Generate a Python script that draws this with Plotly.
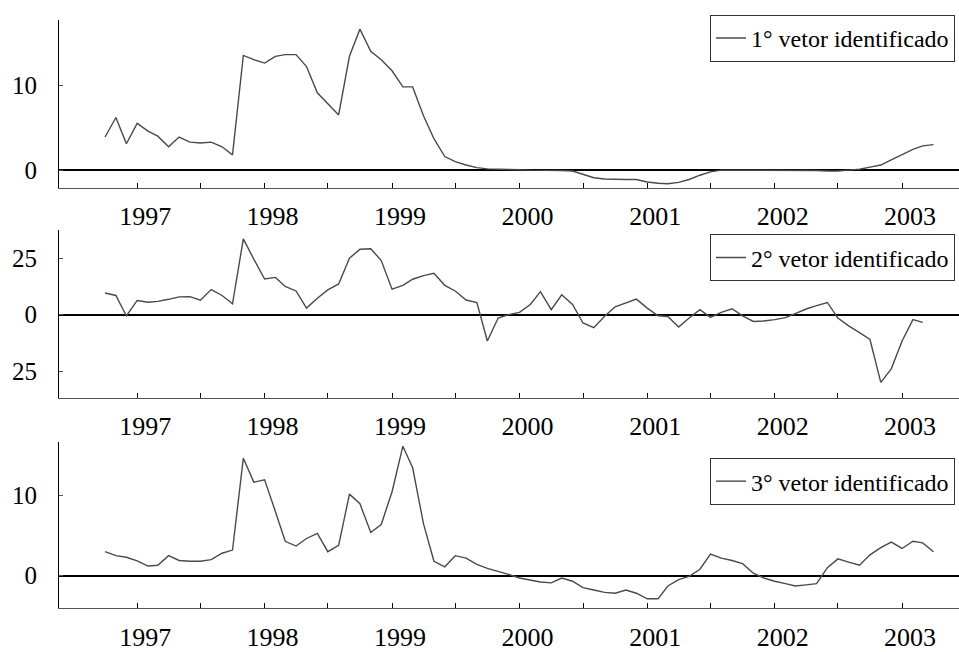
import plotly.graph_objects as go
import pandas as pd

# monthly observations, Oct 1996 .. Apr 2003
months = pd.date_range("1996-10-01", periods=79, freq="MS")

vetor1 = [3.9, 6.2, 3.1, 5.5, 4.6, 4.0, 2.75, 3.9, 3.3, 3.2,
          3.3, 2.75, 1.8, 13.5, 13.0, 12.6, 13.4, 13.6, 13.6, 12.2,
          9.1, 7.8, 6.5, 13.4, 16.6, 14.0, 13.0, 11.7, 9.8, 9.8,
          6.4, 3.7, 1.6, 1.0, 0.6, 0.3, 0.15, 0.1, 0.1, 0.05,
          0.0, 0.0, 0.0, -0.05, -0.1, -0.5, -0.9, -1.05, -1.1, -1.1,
          -1.1, -1.4, -1.55, -1.6, -1.45, -1.1, -0.6, -0.2, 0.0, 0.0,
          0.0, 0.0, 0.0, 0.0, 0.0, 0.0, 0.0, -0.05, -0.1, -0.1,
          0.0, 0.1, 0.35, 0.6, 1.2, 1.85, 2.45, 2.85, 3.0]

vetor2 = [9.6, 8.5, -0.6, 6.3, 5.5, 5.9, 6.8, 7.9, 8.0, 6.4,
          11.1, 8.5, 4.8, 33.6, 24.6, 15.8, 16.5, 12.5, 10.5, 2.9,
          7.3, 11.0, 13.6, 25.0, 29.0, 29.2, 24.0, 11.3, 13.0, 15.7,
          17.3, 18.3, 13.0, 10.5, 6.5, 5.4, -11.7, -1.5, 0.0, 1.0,
          4.5, 10.2, 2.2, 8.8, 4.5, -3.7, -5.8, -0.7, 3.5, 5.4,
          6.9, 2.9, -0.5, -0.8, -5.5, -1.5, 2.2, -1.2, 1.0, 2.6,
          -0.5, -3.0, -2.8, -2.2, -1.3, 0.5, 2.5, 4.0, 5.4, -1.5,
          -5.0, -8.0, -11.0, -30.0, -24.0, -11.7, -2.2, -3.4, None]

vetor3 = [3.0, 2.5, 2.3, 1.85, 1.2, 1.3, 2.5, 1.9, 1.8, 1.8,
          2.0, 2.8, 3.2, 14.7, 11.7, 12.0, 8.0, 4.3, 3.7, 4.65,
          5.3, 3.0, 3.8, 10.2, 9.0, 5.4, 6.4, 10.5, 16.2, 13.5,
          6.5, 1.8, 1.1, 2.5, 2.2, 1.4, 0.9, 0.55, 0.15, -0.3,
          -0.6, -0.8, -0.9, -0.3, -0.7, -1.5, -1.8, -2.1, -2.2, -1.8,
          -2.2, -2.9, -2.9, -1.3, -0.5, -0.1, 0.8, 2.7, 2.2, 1.9,
          1.5, 0.3, -0.3, -0.7, -1.0, -1.3, -1.15, -1.0, 1.0, 2.1,
          1.7, 1.3, 2.6, 3.5, 4.2, 3.4, 4.3, 4.1, 3.0]

series_names = ["1° vetor identificado", "2° vetor identificado", "3° vetor identificado"]
years = [1997, 1998, 1999, 2000, 2001, 2002, 2003]
y_tickvals = [[0, 10], [-25, 0, 25], [0, 10]]
y_ticktext = [["0", "10"], ["25", "0", "25"], ["0", "10"]]
y_ranges = [[-2.1, 17.7], [-36.8, 37.3], [-4.1, 16.7]]

W, H = 959, 652
FONT = "Liberation Serif"
panel_px = [(20, 190), (233, 402), (447, 615)]
legend_top_px = [15, 237, 463]

x_tickvals = []
x_ticktext = []
for y in years:
    x_tickvals += [f"{y}-01-01", f"{y}-07-01"]
    x_ticktext += [str(y), ""]

fig = go.Figure()
data = [vetor1, vetor2, vetor3]
layout = dict(
    width=W, height=H,
    margin=dict(l=59, r=0, t=0, b=0),
    paper_bgcolor="white", plot_bgcolor="white",
    font=dict(family=FONT, color="black"),
    showlegend=True,
)
for k in range(3):
    sfx = "" if k == 0 else str(k + 1)
    fig.add_trace(go.Scatter(
        x=months, y=data[k], mode="lines", name=series_names[k],
        line=dict(color="#4a4a4a", width=1.4),
        xaxis="x" + sfx, yaxis="y" + sfx,
        legend="legend" + sfx,
    ))
    top, bot = panel_px[k]
    layout["xaxis" + sfx] = dict(
        domain=[0, 1], anchor="y" + sfx,
        range=["1996-05-22", "2003-06-13"],
        tickvals=x_tickvals, ticktext=x_ticktext,
        ticks="inside", ticklen=5, tickcolor="black", tickwidth=1,
        showline=True, linecolor="#555", linewidth=1.2,
        showgrid=False, zeroline=False,
        tickfont=dict(size=26, family=FONT, color="black"),
        ticklabelstandoff=5, ticklabelshift=8,
    )
    layout["yaxis" + sfx] = dict(
        domain=[1 - bot / H, 1 - top / H], anchor="x" + sfx,
        range=y_ranges[k],
        tickvals=y_tickvals[k], ticktext=y_ticktext[k],
        ticks="inside", ticklen=4, tickcolor="#555",
        showline=True, linecolor="black", linewidth=1.2,
        showgrid=False,
        zeroline=True, zerolinecolor="black", zerolinewidth=1.6,
        tickfont=dict(size=25, family=FONT, color="black"),
        ticklabelstandoff=16,
    )
    layout["legend" + sfx] = dict(
        x=(955 - 59) / (W - 59), xanchor="right",
        y=1 - legend_top_px[k] / H, yanchor="top",
        bordercolor="#333", borderwidth=1, bgcolor="white",
        font=dict(size=24, family=FONT, color="black"),
    )

fig.update_layout(**layout)
fig.write_html("out.html")
